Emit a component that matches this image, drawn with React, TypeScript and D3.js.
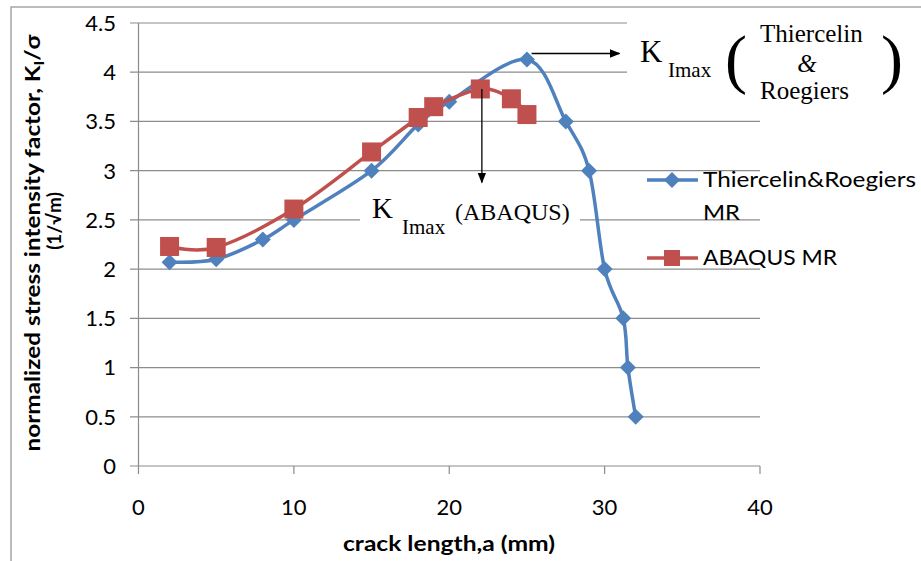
import React from "react";
import * as d3 from "d3";

// crack length a (mm) vs normalized stress intensity factor
const trX = [2, 5, 8, 10, 15, 18, 20, 25, 27.5, 29, 30, 31.2, 31.5, 32];
const trY = [2.07, 2.1, 2.3, 2.5, 3.0, 3.47, 3.7, 4.13, 3.5, 3.0, 2.0, 1.5, 1.0, 0.5];
const abX = [2, 5, 10, 15, 18, 19, 22, 24, 25];
const abY = [2.23, 2.22, 2.61, 3.19, 3.54, 3.65, 3.83, 3.73, 3.57];

const xTicks = [0, 10, 20, 30, 40];
const yTicks = [0, 0.5, 1, 1.5, 2, 2.5, 3, 3.5, 4, 4.5];

const seriesNames = ["Thiercelin&Roegiers", "ABAQUS MR"];

const BLUE = "#4F81BD";
const RED = "#C0504D";
const GRID = "#8c8c8c";
const SANS = "Lato, 'Open Sans', sans-serif";
const SERIF = "'Liberation Serif', 'DejaVu Serif', serif";

export default function App() {
  const x = d3.scaleLinear().domain([0, 40]).range([138.5, 760]);
  const y = d3.scaleLinear().domain([0, 4.5]).range([466, 23]);

  const line = d3
    .line<[number, number]>()
    .x((d) => x(d[0]))
    .y((d) => y(d[1]))
    .curve(d3.curveCardinal.tension(0));

  const tr = trX.map((v, i) => [v, trY[i]] as [number, number]);
  const ab = abX.map((v, i) => [v, abY[i]] as [number, number]);

  const diamond = (cx: number, cy: number, r = 8) =>
    `M${cx},${cy - r}L${cx + r},${cy}L${cx},${cy + r}L${cx - r},${cy}Z`;

  return (
    <svg
      width={921}
      height={561}
      style={{ position: "absolute", left: 0, top: 0, background: "#fff" }}
    >
      <defs>
        <marker id="arr" viewBox="0 0 10 10" refX="9" refY="5" markerWidth="8" markerHeight="8" orient="auto">
          <path d="M0,1L10,5L0,9Z" fill="#000" />
        </marker>
      </defs>

      {/* outer chart border */}
      <rect x={11} y={7} width={1000} height={1000} fill="none" stroke="#a6a6a6" strokeWidth={1.5} />

      {/* gridlines */}
      {yTicks.map((t) => (
        <line key={t} x1={130} x2={760} y1={y(t)} y2={y(t)} stroke={GRID} strokeWidth={1.2} />
      ))}
      {/* axes */}
      <line x1={x(0)} x2={x(0)} y1={y(4.5)} y2={y(0)} stroke={GRID} strokeWidth={1.2} />
      {xTicks.map((t) => (
        <line key={t} x1={x(t)} x2={x(t)} y1={y(0)} y2={y(0) + 8} stroke={GRID} strokeWidth={1.2} />
      ))}

      {/* tick labels */}
      {yTicks.map((t) => (
        <text key={t} x={116} y={y(t)} dy="0.36em" textAnchor="end" fontFamily={SANS} fontSize={22} fill="#000">
          {t}
        </text>
      ))}
      {xTicks.map((t) => (
        <text key={t} x={x(t)} y={515} textAnchor="middle" fontFamily={SANS} fontSize={22} fill="#000">
          {t}
        </text>
      ))}

      {/* axis titles */}
      <text x={449} y={551} textAnchor="middle" fontFamily={SANS} fontSize={20} fontWeight="bold" textLength={212} lengthAdjust="spacingAndGlyphs">
        crack length,a (mm)
      </text>
      <text transform="translate(40,243) rotate(-90)" textAnchor="middle" fontFamily={SANS} fontSize={20} fontWeight="bold" textLength={417} lengthAdjust="spacingAndGlyphs">
        normalized stress intensity factor, K
        <tspan fontSize={13} dy={4}>I</tspan>
        <tspan dy={-4}>/σ</tspan>
      </text>
      <text transform="translate(61,221) rotate(-90)" textAnchor="middle" fontFamily={SANS} fontSize={19} fontWeight="bold">
        (1/√m)
      </text>

      {/* series */}
      <path d={line(tr) ?? ""} fill="none" stroke={BLUE} strokeWidth={3.5} />
      {tr.map((d, i) => (
        <path key={i} d={diamond(x(d[0]), y(d[1]))} fill={BLUE} />
      ))}
      <path d={line(ab) ?? ""} fill="none" stroke={RED} strokeWidth={3.5} />
      {ab.map((d, i) => (
        <rect key={i} x={x(d[0]) - 9.5} y={y(d[1]) - 9.5} width={19} height={19} fill={RED} />
      ))}

      {/* legend */}
      <line x1={647} x2={698} y1={180} y2={180} stroke={BLUE} strokeWidth={3.5} />
      <path d={diamond(672, 180, 8)} fill={BLUE} />
      <text x={703} y={187} fontFamily={SANS} fontSize={21} textLength={213} lengthAdjust="spacingAndGlyphs">
        {seriesNames[0]}
      </text>
      <text x={703} y={220} fontFamily={SANS} fontSize={21} textLength={37} lengthAdjust="spacingAndGlyphs">
        MR
      </text>
      <line x1={647} x2={698} y1={258} y2={258} stroke={RED} strokeWidth={3.5} />
      <rect x={664} y={250} width={16} height={16} fill={RED} />
      <text x={703} y={265} fontFamily={SANS} fontSize={21} textLength={134} lengthAdjust="spacingAndGlyphs">
        {seriesNames[1]}
      </text>

      {/* annotation: K Imax (Thiercelin & Roegiers) */}
      <rect x={627} y={12} width={300} height={100} fill="#fff" />
      <line x1={x(25.3)} x2={x(30.95)} y1={y(4.19)} y2={y(4.19)} stroke="#000" strokeWidth={1.3} markerEnd="url(#arr)" />
      <text x={640} y={62} fontFamily={SERIF} fontSize={31}>K</text>
      <text x={668} y={77} fontFamily={SERIF} fontSize={21}>Imax</text>
      <text x={725} y={81} fontFamily={SERIF} fontSize={66} fontWeight="300">(</text>
      <text x={760} y={42} fontFamily={SERIF} fontSize={25}>Thiercelin</text>
      <text x={807} y={72} fontFamily={SERIF} fontSize={25} textAnchor="middle" fontStyle="italic">&amp;</text>
      <text x={760} y={99} fontFamily={SERIF} fontSize={25}>Roegiers</text>
      <text x={881} y={81} fontFamily={SERIF} fontSize={66} fontWeight="300">)</text>

      {/* annotation: K Imax (ABAQUS) */}
      <rect x={360} y={192} width={220} height={50} fill="#fff" />
      <line x1={x(22.1)} x2={x(22.1)} y1={y(3.83)} y2={y(2.88)} stroke="#000" strokeWidth={1.3} markerEnd="url(#arr)" />
      <text x={372} y={218} fontFamily={SERIF} fontSize={29}>K</text>
      <text x={402} y={234} fontFamily={SERIF} fontSize={21}>Imax</text>
      <text x={455} y={220} fontFamily={SERIF} fontSize={24}>(ABAQUS)</text>
    </svg>
  );
}
